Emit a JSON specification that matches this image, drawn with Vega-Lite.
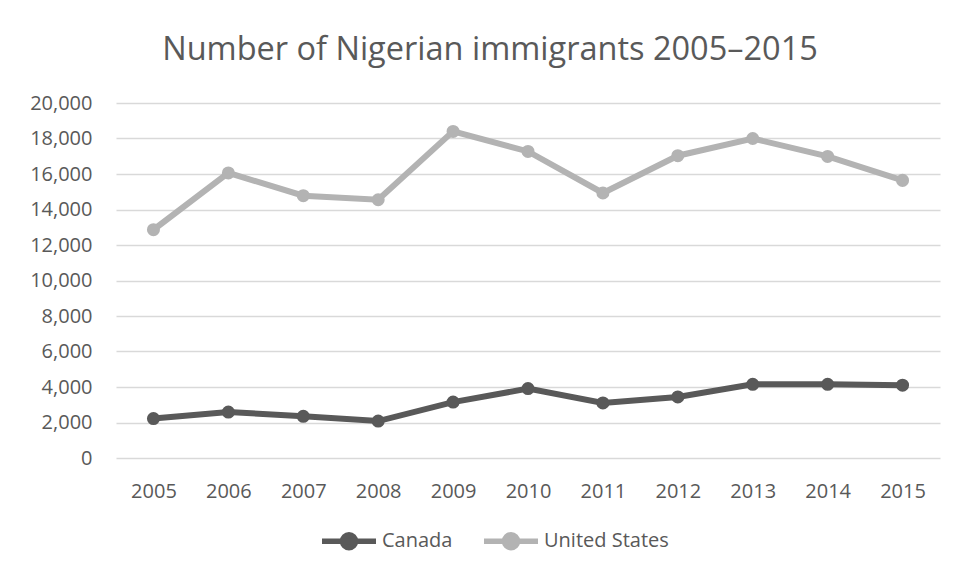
{
  "$schema": "https://vega.github.io/schema/vega-lite/v6.json",
  "width": 824,
  "height": 355,
  "autosize": {"type": "none"},
  "padding": {"left": 116, "top": 103, "right": 16, "bottom": 120},
  "background": "white",
  "config": {"view": {"stroke": null}, "font": "Open Sans"},
  "title": {
    "text": "Number of Nigerian immigrants 2005–2015",
    "font": "Open Sans",
    "fontSize": 32.5,
    "fontWeight": "normal",
    "color": "#595959",
    "anchor": "middle",
    "dx": -38,
    "offset": 27
  },
  "data": {
    "values": [
      {"year": "2005", "country": "Canada", "value": 2220},
      {"year": "2006", "country": "Canada", "value": 2590},
      {"year": "2007", "country": "Canada", "value": 2350},
      {"year": "2008", "country": "Canada", "value": 2080},
      {"year": "2009", "country": "Canada", "value": 3150},
      {"year": "2010", "country": "Canada", "value": 3910},
      {"year": "2011", "country": "Canada", "value": 3100},
      {"year": "2012", "country": "Canada", "value": 3440},
      {"year": "2013", "country": "Canada", "value": 4150},
      {"year": "2014", "country": "Canada", "value": 4150},
      {"year": "2015", "country": "Canada", "value": 4100},
      {"year": "2005", "country": "United States", "value": 12860},
      {"year": "2006", "country": "United States", "value": 16060},
      {"year": "2007", "country": "United States", "value": 14780},
      {"year": "2008", "country": "United States", "value": 14550},
      {"year": "2009", "country": "United States", "value": 18400},
      {"year": "2010", "country": "United States", "value": 17270},
      {"year": "2011", "country": "United States", "value": 14930},
      {"year": "2012", "country": "United States", "value": 17030},
      {"year": "2013", "country": "United States", "value": 18000},
      {"year": "2014", "country": "United States", "value": 16990},
      {"year": "2015", "country": "United States", "value": 15640}
    ]
  },
  "encoding": {
    "x": {
      "field": "year",
      "type": "ordinal",
      "scale": {"type": "point", "padding": 0.5},
      "axis": {
        "title": null,
        "domain": false,
        "ticks": false,
        "grid": false,
        "labelAngle": 0,
        "labelFont": "Open Sans",
        "labelFontSize": 20,
        "labelColor": "#595959",
        "labelPadding": 23
      }
    },
    "y": {
      "field": "value",
      "type": "quantitative",
      "scale": {"domain": [0, 20000], "nice": false},
      "axis": {
        "title": null,
        "domain": false,
        "ticks": false,
        "values": [0, 2000, 4000, 6000, 8000, 10000, 12000, 14000, 16000, 18000, 20000],
        "format": ",d",
        "gridColor": "#d9d9d9",
        "gridWidth": 1.5,
        "labelFont": "Open Sans",
        "labelFontSize": 20,
        "labelColor": "#595959",
        "labelPadding": 24
      }
    },
    "color": {
      "field": "country",
      "type": "nominal",
      "scale": {"domain": ["Canada", "United States"], "range": ["#595959", "#b3b3b3"]},
      "legend": {
        "title": null,
        "orient": "none",
        "direction": "horizontal",
        "legendX": 203,
        "legendY": 408,
        "padding": 0,
        "symbolType": "M -1 0 L 1 0 M -0.24 0 A 0.24 0.24 0 1 1 0.24 0 A 0.24 0.24 0 1 1 -0.24 0 Z",
        "symbolSize": 2916,
        "symbolStrokeWidth": 5.5,
        "labelFont": "Open Sans",
        "labelFontSize": 20,
        "labelColor": "#595959",
        "labelOffset": 3,
        "columnPadding": 20
      }
    }
  },
  "layer": [
    {"mark": {"type": "line", "strokeWidth": 6}},
    {"mark": {"type": "point", "filled": true, "size": 170, "opacity": 1}}
  ]
}
